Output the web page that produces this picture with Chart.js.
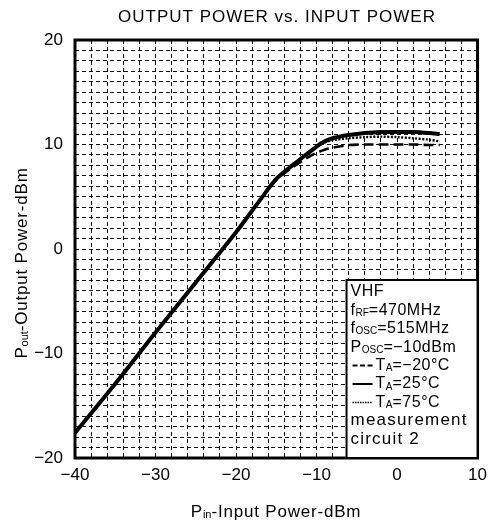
<!DOCTYPE html>
<html>
<head>
<meta charset="utf-8">
<script src="https://cdn.jsdelivr.net/npm/chart.js@4"></script>
<style>
  html, body { margin: 0; padding: 0; background: #fff; }
  #wrap { width: 494px; height: 523px; }
</style>
</head>
<body>
<div id="wrap"><canvas id="powerChart" width="494" height="523"></canvas></div>
<script>
// input power (dBm) where the curves were read
const pinValues = [-40, -35, -30, -25, -20, -17, -15, -13, -11, -10, -9, -8, -6, -4, -2, 0, 2, 4, 5.3];
// output power (dBm) for each ambient temperature
const poutMinus20 = [-17.6, -12.9, -8.0, -3.2, 1.6, 4.7, 6.6, 7.8, 8.8, 9.2, 9.5, 9.7, 9.95, 10.0, 10.0, 10.0, 10.0, 9.95, 9.95];
const pout25 = [-17.6, -12.9, -8.0, -3.2, 1.6, 4.7, 6.7, 8.0, 9.2, 9.8, 10.3, 10.6, 10.9, 11.1, 11.2, 11.2, 11.2, 11.1, 11.0];
const pout75 = [-17.6, -12.9, -8.0, -3.2, 1.6, 4.7, 6.7, 8.0, 9.2, 9.8, 10.2, 10.4, 10.6, 10.7, 10.75, 10.7, 10.6, 10.45, 10.3];
const xTickLabels = [-40, -30, -20, -10, 0, 10];
const yTickLabels = [-20, -10, 0, 10, 20];

const FONT = "'Liberation Sans', Arial, sans-serif";
const toPoints = (ys) => pinValues.map((x, i) => ({ x: x, y: ys[i] }));
const fmt = (v) => (v < 0 ? "\u2212" + Math.abs(v) : String(v));

// draw text made of normal and subscript pieces
function drawRich(ctx, parts, x, y, size, spacing) {
  let cx = x;
  parts.forEach(([txt, sub]) => {
    ctx.font = (sub ? Math.round(size * 0.65) : size) + "px " + FONT;
    ctx.letterSpacing = (sub ? 0 : spacing) + "px";
    ctx.fillText(txt, cx, sub ? y + size * 0.18 : y);
    cx += ctx.measureText(txt).width;
  });
  ctx.letterSpacing = "0px";
  return cx - x;
}
function richWidth(ctx, parts, size, spacing) {
  let w = 0;
  parts.forEach(([txt, sub]) => {
    ctx.font = (sub ? Math.round(size * 0.65) : size) + "px " + FONT;
    ctx.letterSpacing = (sub ? 0 : spacing) + "px";
    w += ctx.measureText(txt).width;
  });
  ctx.letterSpacing = "0px";
  return w;
}

const decorPlugin = {
  id: "decor",
  afterDraw(chart) {
    const ctx = chart.ctx;
    const ca = chart.chartArea;
    ctx.save();
    ctx.fillStyle = "#000";
    ctx.strokeStyle = "#000";
    ctx.textBaseline = "middle";

    // title
    ctx.textAlign = "center";
    ctx.font = "17px " + FONT;
    ctx.letterSpacing = "1px";
    ctx.fillText("OUTPUT POWER vs. INPUT POWER", 277, 17);
    ctx.letterSpacing = "0px";
    ctx.textAlign = "left";

    // x axis title
    const xt = [["P", false], ["in", true], ["-Input Power-dBm", false]];
    const xw = richWidth(ctx, xt, 17, 0.8);
    drawRich(ctx, xt, 276 - xw / 2, 512, 17, 0.8);

    // y axis title
    const yt = [["P", false], ["out", true], ["-Output Power-dBm", false]];
    const yw = richWidth(ctx, yt, 17, 0.8);
    ctx.save();
    ctx.translate(22, 263);
    ctx.rotate(-Math.PI / 2);
    drawRich(ctx, yt, -yw / 2, 0, 17, 0.8);
    ctx.restore();

    // frame
    ctx.lineWidth = 3;
    ctx.strokeRect(ca.left, ca.top, ca.right - ca.left, ca.bottom - ca.top);

    // legend box
    const bx = ca.right - 131;
    const by = ca.bottom - 178;
    ctx.fillStyle = "#fff";
    ctx.fillRect(bx, by, ca.right - bx, ca.bottom - by);
    ctx.lineWidth = 2;
    ctx.strokeRect(bx, by, ca.right - bx, ca.bottom - by);
    ctx.fillStyle = "#000";

    const tx = bx + 4;
    const row = (i) => by + 12 + i * 18.4;
    drawRich(ctx, [["VHF", false]], tx, row(0), 16, 0.5);
    drawRich(ctx, [["f", false], ["RF", true], ["=470MHz", false]], tx, row(1), 16, 0.5);
    drawRich(ctx, [["f", false], ["OSC", true], ["=515MHz", false]], tx, row(2), 16, 0.5);
    drawRich(ctx, [["P", false], ["OSC", true], ["=\u221210dBm", false]], tx, row(3), 16, 0.5);

    const samples = [
      { dash: [5, 2.5], width: 2, label: "=\u221220\u00b0C" },
      { dash: [], width: 2, label: "=25\u00b0C" },
      { dash: [1.5, 1], width: 1.5, label: "=75\u00b0C" },
    ];
    samples.forEach((s, i) => {
      const y = row(4 + i);
      ctx.beginPath();
      ctx.setLineDash(s.dash);
      ctx.lineWidth = s.width;
      ctx.moveTo(bx + 6, y);
      ctx.lineTo(bx + 26, y);
      ctx.stroke();
      ctx.setLineDash([]);
      drawRich(ctx, [["T", false], ["A", true], [s.label, false]], bx + 29, y, 16, 0.5);
    });
    drawRich(ctx, [["measurement", false]], tx, row(7), 17, 1.2);
    drawRich(ctx, [["circuit 2", false]], tx, row(8), 17, 1.2);
    ctx.restore();
  },
};

const ctx = document.getElementById("powerChart").getContext("2d");
const powerChart = new Chart(ctx, {
  type: "line",
  data: {
    datasets: [
      {
        label: "TA=-20°C",
        data: toPoints(poutMinus20),
        borderColor: "#000",
        borderWidth: 2.6,
        borderDash: [10, 5],
        pointRadius: 0,
        tension: 0.3,
        fill: false,
      },
      {
        label: "TA=75°C",
        data: toPoints(pout75),
        borderColor: "#000",
        borderWidth: 2.4,
        borderDash: [2, 1.5],
        pointRadius: 0,
        tension: 0.3,
        fill: false,
      },
      {
        label: "TA=25°C",
        data: toPoints(pout25),
        borderColor: "#000",
        borderWidth: 4,
        pointRadius: 0,
        tension: 0.3,
        fill: false,
      },
    ],
  },
  options: {
    responsive: false,
    animation: false,
    layout: { padding: { top: 40, right: 11, bottom: 0, left: 0 } },
    plugins: {
      legend: { display: false },
      title: { display: false },
      tooltip: { enabled: false },
    },
    scales: {
      x: {
        type: "linear",
        min: -40,
        max: 10,
        border: { display: false, dash: [4, 3] },
        grid: { color: "#111", lineWidth: 1, drawTicks: false },
        ticks: {
          stepSize: 2,
          autoSkip: false,
          maxRotation: 0,
          padding: 7,
          color: "#000",
          font: { family: FONT, size: 17 },
          callback: (v) => (xTickLabels.includes(v) ? fmt(v) : ""),
        },
        afterFit: (scale) => { scale.height = 65; },
      },
      y: {
        min: -20,
        max: 20,
        border: { display: false, dash: [4, 3] },
        grid: { color: "#111", lineWidth: 1, drawTicks: false },
        ticks: {
          stepSize: 1,
          autoSkip: false,
          padding: 12,
          color: "#000",
          font: { family: FONT, size: 17 },
          callback: (v) => (yTickLabels.includes(v) ? fmt(v) : ""),
        },
        afterFit: (scale) => { scale.width = 75; },
      },
    },
  },
  plugins: [decorPlugin],
});
</script>
</body>
</html>
